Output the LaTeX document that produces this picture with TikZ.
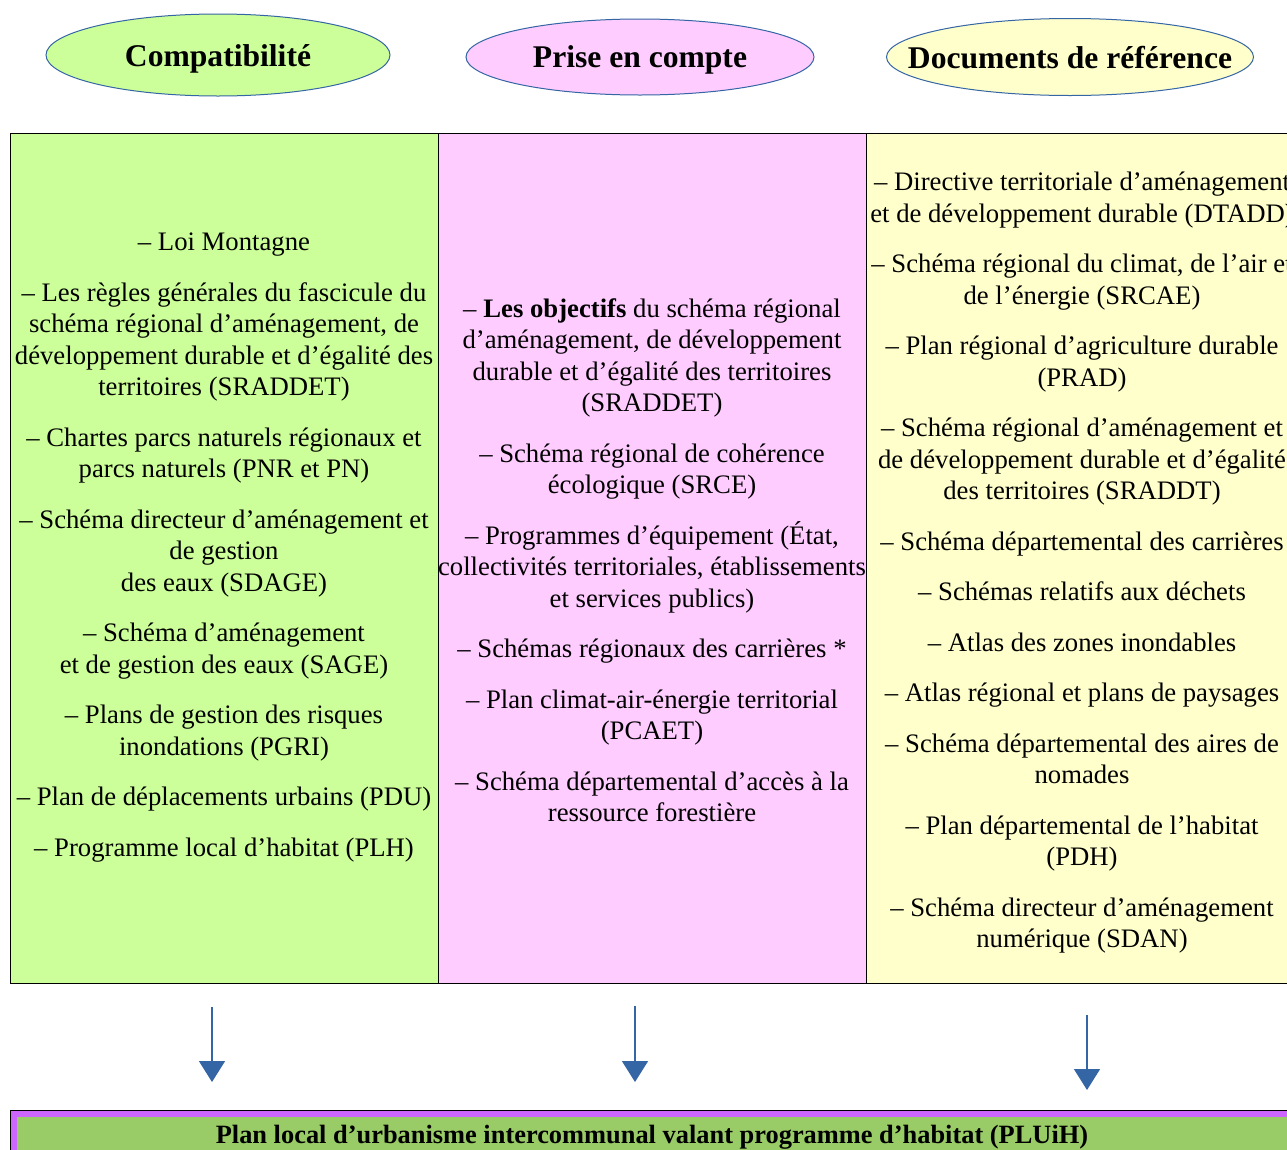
\documentclass[tikz,border=0pt]{standalone}
\usepackage{fontspec}
\setmainfont{Liberation Serif}
\usetikzlibrary{arrows.meta,shapes.geometric}

\definecolor{compatgreen}{HTML}{CCFF99}
\definecolor{priserose}{HTML}{FFCCFF}
\definecolor{refyellow}{HTML}{FFFFCC}
\definecolor{ovalline}{HTML}{3465A4}
\definecolor{arrowblue}{HTML}{3465A4}
\definecolor{bandpurple}{HTML}{CC66FF}
\definecolor{bandgreen}{HTML}{99CC66}

% title set on a baseline a given distance below the oval's centre,
% without letting the text change the oval's size
\newcommand{\ovaltitle}[2]{\smash{\raisebox{-#1}{\makebox[0pt]{#2}}}}

\begin{document}
\begin{tikzpicture}[x=1pt,y=-1pt,
  header/.style={ellipse, draw=ovalline, line width=1pt, inner sep=0pt,
    font=\fontsize{31.6}{36}\selectfont\bfseries},
  column/.style={draw=black, line width=0.8pt},
  itemlist/.style={align=center, inner sep=0pt, anchor=north,
    font=\fontsize{26.7}{31.5}\selectfont},
  downarrow/.style={draw=arrowblue, line width=1.5pt,
    -{Triangle[width=26pt,length=21pt]}}
]
\useasboundingbox (0,0) rectangle (1287,1149);
\fill[white] (0,0) rectangle (1287,1149);

% header ovals
\node[header, fill=compatgreen, minimum width=344pt, minimum height=82pt] (compat) at (218,55)
  {\ovaltitle{11pt}{Compatibilité}};
\node[header, fill=priserose, minimum width=348pt, minimum height=76pt] (prise) at (640,57)
  {\ovaltitle{10pt}{Prise en compte}};
\node[header, fill=refyellow, minimum width=367pt, minimum height=77pt] (refdocs) at (1070,57)
  {\ovaltitle{11pt}{Documents de référence}};

% the three columns
\path[column, fill=compatgreen] (10,133) rectangle (438,983);
\path[column, fill=priserose] (438,133) rectangle (866,983);
\path[column, fill=refyellow] (866,133) rectangle (1296,983);

\node[itemlist] (compatlist) at (224,233) {%
  – Loi Montagne\\[19pt]
  – Les règles générales du fascicule du\\
  schéma régional d’aménagement, de\\
  développement durable et d’égalité des\\
  territoires (SRADDET)\\[19pt]
  – Chartes parcs naturels régionaux et\\
  parcs naturels (PNR et PN)\\[19pt]
  – Schéma directeur d’aménagement et\\
  de gestion\\
  des eaux (SDAGE)\\[19pt]
  – Schéma d’aménagement\\
  et de gestion des eaux (SAGE)\\[19pt]
  – Plans de gestion des risques\\
  inondations (PGRI)\\[19pt]
  – Plan de déplacements urbains (PDU)\\[19pt]
  – Programme local d’habitat (PLH)};

\node[itemlist] (priselist) at (652,298) {%
  – \textbf{Les objectifs} du schéma régional\\
  d’aménagement, de développement\\
  durable et d’égalité des territoires\\
  (SRADDET)\\[19pt]
  – Schéma régional de cohérence\\
  écologique (SRCE)\\[19pt]
  – Programmes d’équipement (État,\\
  collectivités territoriales, établissements\\
  et services publics)\\[19pt]
  – Schémas régionaux des carrières *\\[19pt]
  – Plan climat-air-énergie territorial\\
  (PCAET)\\[19pt]
  – Schéma départemental d’accès à la\\
  ressource forestière};

\node[itemlist] (reflist) at (1082,172) {%
  – Directive territoriale d’aménagement\\
  et de développement durable (DTADD)\\[19pt]
  – Schéma régional du climat, de l’air et\\
  de l’énergie (SRCAE)\\[19pt]
  – Plan régional d’agriculture durable\\
  (PRAD)\\[19pt]
  – Schéma régional d’aménagement et\\
  de développement durable et d’égalité\\
  des territoires (SRADDT)\\[19pt]
  – Schéma départemental des carrières\\[19pt]
  – Schémas relatifs aux déchets\\[19pt]
  – Atlas des zones inondables\\[19pt]
  – Atlas régional et plans de paysages\\[19pt]
  – Schéma départemental des aires de\\
  nomades\\[19pt]
  – Plan départemental de l’habitat\\
  (PDH)\\[19pt]
  – Schéma directeur d’aménagement\\
  numérique (SDAN)};

% arrows towards the plan
\coordinate (a1s) at (212,1007);
\coordinate (a1e) at (212,1082);
\coordinate (a2s) at (635,1006);
\coordinate (a2e) at (635,1082);
\coordinate (a3s) at (1087,1015);
\coordinate (a3e) at (1087,1090);
\draw[downarrow] (a1s) -- (a1e);
\draw[downarrow] (a2s) -- (a2e);
\draw[downarrow] (a3s) -- (a3e);

% the resulting plan
\path[draw=black, line width=0.8pt, fill=bandpurple] (10,1110) rectangle (1310,1170);
\path[fill=bandgreen] (17,1117) rectangle (1310,1170);
\node[font=\fontsize{26.4}{30}\selectfont\bfseries, inner sep=0pt] (pluih) at (652,1137)
  {Plan local d’urbanisme intercommunal valant programme d’habitat (PLUiH)};
\end{tikzpicture}
\end{document}
